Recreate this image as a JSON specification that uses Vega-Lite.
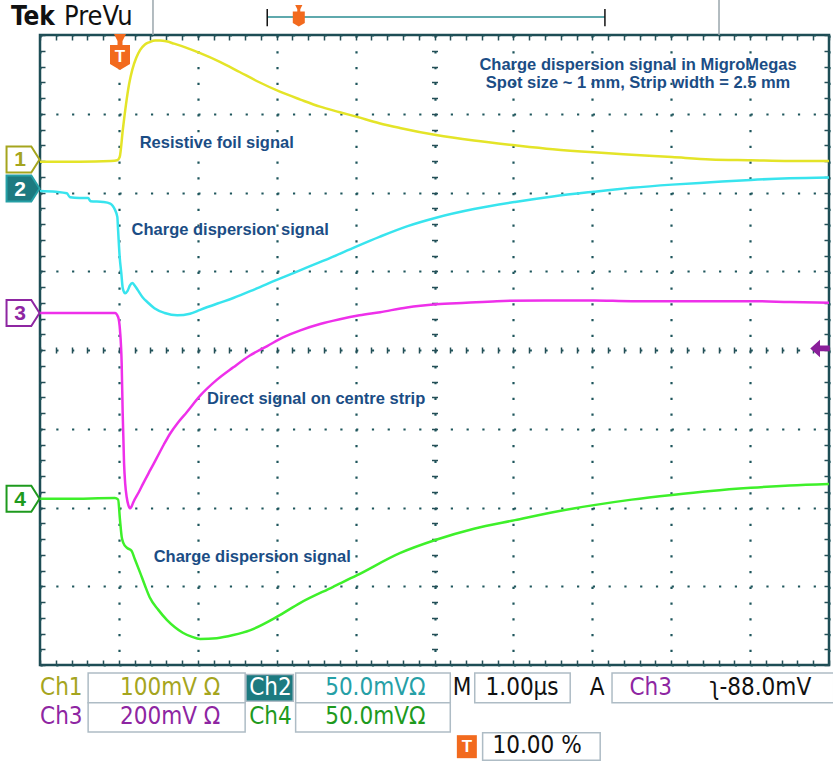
{
  "$schema": "https://vega.github.io/schema/vega-lite/v6.json",
  "width": 789,
  "height": 630,
  "autosize": {"type": "none"},
  "padding": {"left": 40, "top": 35, "right": 4, "bottom": 97},
  "background": "white",
  "config": {"view": {"stroke": "#1d4d55", "strokeWidth": 2.5}},
  "datasets": {
    "traces": [
      {"ch":"1","t":0,"v":2.39},{"ch":"1","t":0.5,"v":2.39},{"ch":"1","t":0.9,"v":2.40},{"ch":"1","t":0.98,"v":2.41},{"ch":"1","t":1.01,"v":2.45},{"ch":"1","t":1.05,"v":2.80},{"ch":"1","t":1.09,"v":3.12},{"ch":"1","t":1.13,"v":3.38},{"ch":"1","t":1.17,"v":3.56},{"ch":"1","t":1.22,"v":3.71},{"ch":"1","t":1.27,"v":3.81},{"ch":"1","t":1.33,"v":3.88},{"ch":"1","t":1.39,"v":3.91},{"ch":"1","t":1.46,"v":3.93},{"ch":"1","t":1.52,"v":3.93},{"ch":"1","t":1.60,"v":3.92},{"ch":"1","t":1.70,"v":3.89},{"ch":"1","t":1.85,"v":3.84},{"ch":"1","t":2.03,"v":3.77},{"ch":"1","t":2.28,"v":3.66},{"ch":"1","t":2.53,"v":3.53},{"ch":"1","t":2.78,"v":3.40},{"ch":"1","t":3.04,"v":3.28},{"ch":"1","t":3.30,"v":3.18},{"ch":"1","t":3.55,"v":3.09},{"ch":"1","t":3.80,"v":3.02},{"ch":"1","t":4.02,"v":2.96},{"ch":"1","t":4.30,"v":2.88},{"ch":"1","t":4.56,"v":2.82},{"ch":"1","t":5.02,"v":2.73},{"ch":"1","t":5.5,"v":2.66},{"ch":"1","t":6.02,"v":2.60},{"ch":"1","t":6.5,"v":2.55},{"ch":"1","t":7.02,"v":2.51},{"ch":"1","t":7.5,"v":2.48},{"ch":"1","t":8.01,"v":2.45},{"ch":"1","t":8.5,"v":2.42},{"ch":"1","t":9.01,"v":2.41},{"ch":"1","t":9.5,"v":2.40},{"ch":"1","t":10,"v":2.40},
      {"ch":"2","t":0,"v":2.02},{"ch":"2","t":0.2,"v":2.01},{"ch":"2","t":0.34,"v":1.99},{"ch":"2","t":0.38,"v":1.94},{"ch":"2","t":0.5,"v":1.93},{"ch":"2","t":0.61,"v":1.93},{"ch":"2","t":0.64,"v":1.89},{"ch":"2","t":0.8,"v":1.88},{"ch":"2","t":0.89,"v":1.86},{"ch":"2","t":0.95,"v":1.78},{"ch":"2","t":0.98,"v":1.69},{"ch":"2","t":0.99,"v":1.52},{"ch":"2","t":1.01,"v":1.18},{"ch":"2","t":1.03,"v":0.98},{"ch":"2","t":1.05,"v":0.78},{"ch":"2","t":1.08,"v":0.72},{"ch":"2","t":1.11,"v":0.75},{"ch":"2","t":1.14,"v":0.82},{"ch":"2","t":1.17,"v":0.85},{"ch":"2","t":1.20,"v":0.82},{"ch":"2","t":1.24,"v":0.76},{"ch":"2","t":1.30,"v":0.67},{"ch":"2","t":1.37,"v":0.60},{"ch":"2","t":1.45,"v":0.53},{"ch":"2","t":1.58,"v":0.47},{"ch":"2","t":1.74,"v":0.44},{"ch":"2","t":1.90,"v":0.46},{"ch":"2","t":2.03,"v":0.51},{"ch":"2","t":2.25,"v":0.59},{"ch":"2","t":2.45,"v":0.66},{"ch":"2","t":2.72,"v":0.77},{"ch":"2","t":3.00,"v":0.89},{"ch":"2","t":3.34,"v":1.03},{"ch":"2","t":3.68,"v":1.17},{"ch":"2","t":4.00,"v":1.31},{"ch":"2","t":4.31,"v":1.44},{"ch":"2","t":4.65,"v":1.57},{"ch":"2","t":5.02,"v":1.68},{"ch":"2","t":5.5,"v":1.79},{"ch":"2","t":6.02,"v":1.88},{"ch":"2","t":6.5,"v":1.95},{"ch":"2","t":7.02,"v":2.01},{"ch":"2","t":7.5,"v":2.06},{"ch":"2","t":8.01,"v":2.10},{"ch":"2","t":8.5,"v":2.13},{"ch":"2","t":9.01,"v":2.16},{"ch":"2","t":9.5,"v":2.18},{"ch":"2","t":10,"v":2.19},
      {"ch":"3","t":0,"v":0.47},{"ch":"3","t":0.5,"v":0.47},{"ch":"3","t":0.95,"v":0.47},{"ch":"3","t":0.99,"v":0.42},{"ch":"3","t":1.014,"v":0.25},{"ch":"3","t":1.035,"v":-0.17},{"ch":"3","t":1.048,"v":-0.80},{"ch":"3","t":1.065,"v":-1.43},{"ch":"3","t":1.08,"v":-1.70},{"ch":"3","t":1.099,"v":-1.87},{"ch":"3","t":1.12,"v":-1.97},{"ch":"3","t":1.141,"v":-2.01},{"ch":"3","t":1.16,"v":-1.99},{"ch":"3","t":1.18,"v":-1.94},{"ch":"3","t":1.25,"v":-1.81},{"ch":"3","t":1.31,"v":-1.69},{"ch":"3","t":1.40,"v":-1.52},{"ch":"3","t":1.48,"v":-1.37},{"ch":"3","t":1.57,"v":-1.20},{"ch":"3","t":1.65,"v":-1.06},{"ch":"3","t":1.75,"v":-0.92},{"ch":"3","t":1.86,"v":-0.79},{"ch":"3","t":2.03,"v":-0.58},{"ch":"3","t":2.24,"v":-0.38},{"ch":"3","t":2.45,"v":-0.22},{"ch":"3","t":2.66,"v":-0.07},{"ch":"3","t":2.88,"v":0.05},{"ch":"3","t":3.08,"v":0.16},{"ch":"3","t":3.30,"v":0.25},{"ch":"3","t":3.55,"v":0.33},{"ch":"3","t":3.80,"v":0.39},{"ch":"3","t":4.05,"v":0.44},{"ch":"3","t":4.31,"v":0.48},{"ch":"3","t":4.65,"v":0.54},{"ch":"3","t":5.02,"v":0.58},{"ch":"3","t":5.4,"v":0.60},{"ch":"3","t":5.79,"v":0.62},{"ch":"3","t":6.4,"v":0.63},{"ch":"3","t":7.02,"v":0.63},{"ch":"3","t":7.5,"v":0.62},{"ch":"3","t":8.01,"v":0.62},{"ch":"3","t":9.01,"v":0.62},{"ch":"3","t":9.5,"v":0.61},{"ch":"3","t":10,"v":0.60},
      {"ch":"4","t":0,"v":-1.89},{"ch":"4","t":0.34,"v":-1.89},{"ch":"4","t":0.95,"v":-1.88},{"ch":"4","t":0.99,"v":-1.90},{"ch":"4","t":1.014,"v":-2.16},{"ch":"4","t":1.035,"v":-2.37},{"ch":"4","t":1.056,"v":-2.45},{"ch":"4","t":1.10,"v":-2.51},{"ch":"4","t":1.16,"v":-2.55},{"ch":"4","t":1.20,"v":-2.65},{"ch":"4","t":1.27,"v":-2.83},{"ch":"4","t":1.33,"v":-2.99},{"ch":"4","t":1.39,"v":-3.14},{"ch":"4","t":1.50,"v":-3.30},{"ch":"4","t":1.61,"v":-3.43},{"ch":"4","t":1.71,"v":-3.52},{"ch":"4","t":1.81,"v":-3.59},{"ch":"4","t":1.92,"v":-3.64},{"ch":"4","t":2.03,"v":-3.67},{"ch":"4","t":2.24,"v":-3.66},{"ch":"4","t":2.45,"v":-3.62},{"ch":"4","t":2.66,"v":-3.56},{"ch":"4","t":3.00,"v":-3.39},{"ch":"4","t":3.30,"v":-3.21},{"ch":"4","t":3.71,"v":-3.01},{"ch":"4","t":4.02,"v":-2.86},{"ch":"4","t":4.56,"v":-2.58},{"ch":"4","t":5.02,"v":-2.41},{"ch":"4","t":5.5,"v":-2.27},{"ch":"4","t":6.02,"v":-2.16},{"ch":"4","t":6.5,"v":-2.06},{"ch":"4","t":7.02,"v":-1.97},{"ch":"4","t":7.5,"v":-1.90},{"ch":"4","t":8.01,"v":-1.84},{"ch":"4","t":8.5,"v":-1.79},{"ch":"4","t":9.01,"v":-1.75},{"ch":"4","t":9.5,"v":-1.72},{"ch":"4","t":10,"v":-1.70}
    ],
    "notes": [
      {"label":"Charge dispersion signal in MigroMegas","t":7.58,"v":3.62},
      {"label":"Spot size ~ 1 mm, Strip width = 2.5 mm","t":7.58,"v":3.39},
      {"label":"Resistive foil signal","t":2.24,"v":2.63},
      {"label":"Charge dispersion signal","t":2.41,"v":1.52},
      {"label":"Direct signal on centre strip","t":3.50,"v":-0.62},
      {"label":"Charge dispersion signal","t":2.69,"v":-2.63}
    ],
    "status": [
      {"label":"Ch1","t":0.27,"v":-4.29,"c":"1"},
      {"label":"100mV Ω","t":1.65,"v":-4.29,"c":"1"},
      {"label":"Ch2","t":2.92,"v":-4.29,"c":"w"},
      {"label":"50.0mVΩ","t":4.25,"v":-4.29,"c":"2"},
      {"label":"M","t":5.35,"v":-4.29,"c":"k"},
      {"label":"1.00µs","t":6.11,"v":-4.29,"c":"k"},
      {"label":"A","t":7.06,"v":-4.29,"c":"k"},
      {"label":"Ch3","t":7.74,"v":-4.29,"c":"3"},
      {"label":"ʅ-88.0mV","t":9.13,"v":-4.29,"c":"k"},
      {"label":"Ch3","t":0.27,"v":-4.66,"c":"3"},
      {"label":"200mV Ω","t":1.65,"v":-4.66,"c":"3"},
      {"label":"Ch4","t":2.92,"v":-4.66,"c":"4"},
      {"label":"50.0mVΩ","t":4.25,"v":-4.66,"c":"4"},
      {"label":"10.00 %","t":6.30,"v":-5.03,"c":"k"}
    ],
    "boxes": [
      {"t":0.61,"t2":2.60,"v":-4.10,"v2":-4.48,"kind":"box"},
      {"t":2.61,"t2":3.21,"v":-4.12,"v2":-4.46,"kind":"tag"},
      {"t":3.24,"t2":5.20,"v":-4.10,"v2":-4.48,"kind":"box"},
      {"t":5.51,"t2":6.72,"v":-4.10,"v2":-4.48,"kind":"box"},
      {"t":7.25,"t2":10.06,"v":-4.10,"v2":-4.48,"kind":"box"},
      {"t":0.61,"t2":2.60,"v":-4.48,"v2":-4.85,"kind":"box"},
      {"t":3.24,"t2":5.20,"v":-4.48,"v2":-4.85,"kind":"box"},
      {"t":5.61,"t2":7.10,"v":-4.86,"v2":-5.21,"kind":"box"}
    ],
    "markers": [
      {"ch":"1","t":-0.215,"v":2.42},
      {"ch":"2","t":-0.215,"v":2.05},
      {"ch":"3","t":-0.215,"v":0.47},
      {"ch":"4","t":-0.215,"v":-1.89}
    ],
    "glyphs": [
      {"kind":"main","t":1.014,"v":3.784},
      {"kind":"bar","t":3.28,"v":4.244},
      {"kind":"status","t":5.41,"v":-4.98},
      {"kind":"arrow","t":9.886,"v":0.02}
    ],
    "hrules": [
      {"t":1.432,"t2":1.432,"v":4.0,"v2":4.45,"c":"g"},
      {"t":8.606,"t2":8.606,"v":4.0,"v2":4.45,"c":"g"},
      {"t":2.88,"t2":7.16,"v":4.23,"v2":4.23,"c":"b"},
      {"t":2.88,"t2":2.88,"v":4.11,"v2":4.33,"c":"k"},
      {"t":7.16,"t2":7.16,"v":4.11,"v2":4.33,"c":"k"}
    ],
    "header": [
      {"label":"Tek","t":-0.09,"v":4.23},
      {"label":"PreVu","t":0.74,"v":4.23}
    ]
  },
  "resolve": {"axis": {"x": "independent", "y": "independent"}},
  "layer": [
    {
      "data": {"name": "traces"},
      "mark": {"type": "line", "strokeWidth": 2.5, "interpolate": "monotone"},
      "encoding": {
        "x": {"field": "t", "type": "quantitative", "scale": {"domain": [0, 10], "nice": false, "zero": false},
              "axis": {"orient": "bottom", "values": [0,1,2,3,4,5,6,7,8,9,10], "grid": true, "gridColor": "#1e565c", "gridDash": [2.2, 13.55], "gridWidth": 2.2, "ticks": false, "labels": false, "domain": false, "title": null}},
        "y": {"field": "v", "type": "quantitative", "scale": {"domain": [-4, 4], "nice": false, "zero": false},
              "axis": {"orient": "left", "values": [-4,-3,-2,-1,0,1,2,3,4], "grid": true, "gridColor": "#1e565c", "gridDash": [2.2, 13.58], "gridWidth": 2.2, "ticks": false, "labels": false, "domain": false, "title": null}},
        "stroke": {"field": "ch", "type": "nominal", "scale": {"domain": ["1","2","3","4"], "range": ["#e4e428","#38e4ee","#ee30ea","#3ef02a"]}, "legend": null}
      }
    },
    {
      "data": {"name": "notes"},
      "mark": {"type": "text", "font": "Liberation Sans", "fontWeight": "bold", "fontSize": 16.5, "align": "center", "baseline": "middle", "clip": false},
      "encoding": {
        "x": {"field": "t", "type": "quantitative", "scale": {"domain": [0, 10], "nice": false, "zero": false},
              "axis": {"orient": "top", "offset": -5, "tickSize": 5, "tickColor": "#244f57", "tickWidth": 1.5, "values": [0,0.2,0.4,0.6,0.8,1,1.2,1.4,1.6,1.8,2,2.2,2.4,2.6,2.8,3,3.2,3.4,3.6,3.8,4,4.2,4.4,4.6,4.8,5,5.2,5.4,5.6,5.8,6,6.2,6.4,6.6,6.8,7,7.2,7.4,7.6,7.8,8,8.2,8.4,8.6,8.8,9,9.2,9.4,9.6,9.8,10], "grid": false, "labels": false, "domain": false, "title": null}},
        "y": {"field": "v", "type": "quantitative", "scale": {"domain": [-4, 4], "nice": false, "zero": false},
              "axis": {"orient": "right", "offset": -5, "tickSize": 5, "tickColor": "#244f57", "tickWidth": 1.5, "values": [-4,-3.8,-3.6,-3.4,-3.2,-3,-2.8,-2.6,-2.4,-2.2,-2,-1.8,-1.6,-1.4,-1.2,-1,-0.8,-0.6,-0.4,-0.2,0,0.2,0.4,0.6,0.8,1,1.2,1.4,1.6,1.8,2,2.2,2.4,2.6,2.8,3,3.2,3.4,3.6,3.8,4], "grid": false, "labels": false, "domain": false, "title": null}},
        "text": {"field": "label"},
        "color": {"value": "#1b4d85"}
      }
    },
    {
      "data": {"name": "boxes"},
      "mark": {"type": "rect", "stroke": "#aebcc5", "strokeWidth": 1.5, "clip": false},
      "encoding": {
        "x": {"field": "t", "type": "quantitative", "scale": {"domain": [0, 10], "nice": false, "zero": false},
              "axis": {"orient": "bottom", "offset": -5, "tickSize": 5, "tickColor": "#244f57", "tickWidth": 1.5, "values": [0,0.2,0.4,0.6,0.8,1,1.2,1.4,1.6,1.8,2,2.2,2.4,2.6,2.8,3,3.2,3.4,3.6,3.8,4,4.2,4.4,4.6,4.8,5,5.2,5.4,5.6,5.8,6,6.2,6.4,6.6,6.8,7,7.2,7.4,7.6,7.8,8,8.2,8.4,8.6,8.8,9,9.2,9.4,9.6,9.8,10], "grid": false, "labels": false, "domain": false, "title": null}},
        "x2": {"field": "t2"},
        "y": {"field": "v", "type": "quantitative", "scale": {"domain": [-4, 4], "nice": false, "zero": false},
              "axis": {"orient": "left", "offset": -5, "tickSize": 5, "tickColor": "#244f57", "tickWidth": 1.5, "values": [-4,-3.8,-3.6,-3.4,-3.2,-3,-2.8,-2.6,-2.4,-2.2,-2,-1.8,-1.6,-1.4,-1.2,-1,-0.8,-0.6,-0.4,-0.2,0,0.2,0.4,0.6,0.8,1,1.2,1.4,1.6,1.8,2,2.2,2.4,2.6,2.8,3,3.2,3.4,3.6,3.8,4], "grid": false, "labels": false, "domain": false, "title": null}},
        "y2": {"field": "v2"},
        "fill": {"condition": {"test": "datum.kind == 'tag'", "value": "#1d7a80"}, "value": "#ffffff"}
      }
    },
    {
      "data": {"name": "status"},
      "mark": {"type": "text", "font": "Liberation Sans Narrow, DejaVu Sans Condensed, sans-serif", "fontSize": 24, "align": "center", "baseline": "middle", "clip": false},
      "encoding": {
        "x": {"field": "t", "type": "quantitative", "scale": {"domain": [0, 10], "nice": false, "zero": false},
              "axis": {"orient": "bottom", "offset": -318, "tickSize": 6, "tickColor": "#244f57", "tickWidth": 1.5, "values": [0,0.2,0.4,0.6,0.8,1,1.2,1.4,1.6,1.8,2,2.2,2.4,2.6,2.8,3,3.2,3.4,3.6,3.8,4,4.2,4.4,4.6,4.8,5,5.2,5.4,5.6,5.8,6,6.2,6.4,6.6,6.8,7,7.2,7.4,7.6,7.8,8,8.2,8.4,8.6,8.8,9,9.2,9.4,9.6,9.8,10], "grid": false, "labels": false, "domain": false, "title": null}},
        "y": {"field": "v", "type": "quantitative", "scale": {"domain": [-4, 4], "nice": false, "zero": false},
              "axis": {"orient": "left", "offset": -397.5, "tickSize": 6, "tickColor": "#244f57", "tickWidth": 1.5, "values": [-4,-3.8,-3.6,-3.4,-3.2,-3,-2.8,-2.6,-2.4,-2.2,-2,-1.8,-1.6,-1.4,-1.2,-1,-0.8,-0.6,-0.4,-0.2,0,0.2,0.4,0.6,0.8,1,1.2,1.4,1.6,1.8,2,2.2,2.4,2.6,2.8,3,3.2,3.4,3.6,3.8,4], "grid": false, "labels": false, "domain": false, "title": null}},
        "text": {"field": "label"},
        "color": {"field": "c", "type": "nominal", "scale": {"domain": ["1","2","3","4","k","w","g","b"], "range": ["#a5a51e","#26a0a6","#8e26a2","#1e9a1e","#111111","#ffffff","#9aa6ac","#2a8c92"]}, "legend": null}
      }
    },
    {
      "data": {"name": "markers"},
      "transform": [{"filter": "datum.ch == '2'"}],
      "mark": {"type": "point", "filled": true, "opacity": 1, "size": 1089, "shape": "M-1,-0.79 L0.5,-0.79 L1,0 L0.5,0.79 L-1,0.79 Z", "color": "#1d7a80", "clip": false},
      "encoding": {
        "x": {"field": "t", "type": "quantitative", "scale": {"domain": [0, 10], "nice": false, "zero": false}, "axis": null},
        "y": {"field": "v", "type": "quantitative", "scale": {"domain": [-4, 4], "nice": false, "zero": false}, "axis": null}
      }
    },
    {
      "data": {"name": "markers"},
      "mark": {"type": "point", "filled": false, "opacity": 1, "size": 1089, "strokeWidth": 2, "shape": "M-1,-0.79 L0.5,-0.79 L1,0 L0.5,0.79 L-1,0.79 Z", "clip": false},
      "encoding": {
        "x": {"field": "t", "type": "quantitative", "scale": {"domain": [0, 10], "nice": false, "zero": false}, "axis": null},
        "y": {"field": "v", "type": "quantitative", "scale": {"domain": [-4, 4], "nice": false, "zero": false}, "axis": null},
        "color": {"field": "ch", "type": "nominal", "scale": {"domain": ["1","2","3","4","k","w","g","b"], "range": ["#a5a51e","#26a0a6","#8e26a2","#1e9a1e","#111111","#ffffff","#9aa6ac","#2a8c92"]}, "legend": null}
      }
    },
    {
      "data": {"name": "markers"},
      "mark": {"type": "text", "font": "Liberation Sans", "fontWeight": "bold", "fontSize": 21, "align": "center", "baseline": "middle", "dx": -3, "dy": 1, "clip": false},
      "encoding": {
        "x": {"field": "t", "type": "quantitative", "scale": {"domain": [0, 10], "nice": false, "zero": false}, "axis": null},
        "y": {"field": "v", "type": "quantitative", "scale": {"domain": [-4, 4], "nice": false, "zero": false}, "axis": null},
        "text": {"field": "ch"},
        "color": {"condition": {"test": "datum.ch == '2'", "value": "#ffffff"}, "field": "ch", "type": "nominal", "scale": {"domain": ["1","2","3","4","k","w","g","b"], "range": ["#a5a51e","#26a0a6","#8e26a2","#1e9a1e","#111111","#ffffff","#9aa6ac","#2a8c92"]}, "legend": null}
      }
    },
    {
      "data": {"name": "hrules"},
      "mark": {"type": "rule", "strokeWidth": 1.5, "clip": false},
      "encoding": {
        "x": {"field": "t", "type": "quantitative", "scale": {"domain": [0, 10], "nice": false, "zero": false}, "axis": null},
        "x2": {"field": "t2"},
        "y": {"field": "v", "type": "quantitative", "scale": {"domain": [-4, 4], "nice": false, "zero": false}, "axis": null},
        "y2": {"field": "v2"},
        "color": {"field": "c", "type": "nominal", "scale": {"domain": ["1","2","3","4","k","w","g","b"], "range": ["#a5a51e","#26a0a6","#8e26a2","#1e9a1e","#111111","#ffffff","#9aa6ac","#2a8c92"]}, "legend": null}
      }
    },
    {
      "data": {"name": "glyphs"},
      "mark": {"type": "point", "filled": true, "opacity": 1, "clip": false},
      "encoding": {
        "x": {"field": "t", "type": "quantitative", "scale": {"domain": [0, 10], "nice": false, "zero": false}, "axis": null},
        "y": {"field": "v", "type": "quantitative", "scale": {"domain": [-4, 4], "nice": false, "zero": false}, "axis": null},
        "shape": {"condition": [
          {"test": "datum.kind == 'status'", "value": "M-1,-0.7 L1,-0.7 L1,1.6 L-1,1.6 Z"},
          {"test": "datum.kind == 'arrow'", "value": "M-1,0 L0,-0.9 L0,-0.3 L1,-0.3 L1,0.3 L0,0.3 L0,0.9 Z"}
        ], "value": "M-0.6,-1.8 L0.6,-1.8 L0.25,-1.1 L0.25,-0.7 L1,-0.7 L1,1.2 L0,1.8 L-1,1.2 L-1,-0.7 L-0.25,-0.7 L-0.25,-1.1 Z"},
        "size": {"condition": [
          {"test": "datum.kind == 'bar'", "value": 144},
          {"test": "datum.kind == 'arrow'", "value": 380}
        ], "value": 400},
        "color": {"condition": {"test": "datum.kind == 'arrow'", "value": "#8a1f9a"}, "value": "#f26a1e"}
      }
    },
    {
      "data": {"name": "glyphs"},
      "transform": [{"filter": "datum.kind == 'main' || datum.kind == 'status'"}],
      "mark": {"type": "text", "text": "T", "font": "Liberation Sans", "fontWeight": "bold", "fontSize": 17, "align": "center", "baseline": "middle", "dy": 5, "color": "#ffffff", "clip": false},
      "encoding": {
        "x": {"field": "t", "type": "quantitative", "scale": {"domain": [0, 10], "nice": false, "zero": false}, "axis": null},
        "y": {"field": "v", "type": "quantitative", "scale": {"domain": [-4, 4], "nice": false, "zero": false}, "axis": null}
      }
    },
    {
      "data": {"name": "header"},
      "transform": [{"filter": "datum.label == 'Tek'"}],
      "mark": {"type": "text", "font": "Liberation Sans Narrow, DejaVu Sans Condensed, sans-serif", "fontWeight": "bold", "fontSize": 26, "align": "center", "baseline": "middle", "color": "#111111", "clip": false},
      "encoding": {
        "x": {"field": "t", "type": "quantitative", "scale": {"domain": [0, 10], "nice": false, "zero": false}, "axis": null},
        "y": {"field": "v", "type": "quantitative", "scale": {"domain": [-4, 4], "nice": false, "zero": false}, "axis": null},
        "text": {"field": "label"}
      }
    },
    {
      "data": {"name": "header"},
      "transform": [{"filter": "datum.label == 'PreVu'"}],
      "mark": {"type": "text", "font": "Liberation Sans Narrow, DejaVu Sans Condensed, sans-serif", "fontSize": 27, "align": "center", "baseline": "middle", "color": "#111111", "clip": false},
      "encoding": {
        "x": {"field": "t", "type": "quantitative", "scale": {"domain": [0, 10], "nice": false, "zero": false}, "axis": null},
        "y": {"field": "v", "type": "quantitative", "scale": {"domain": [-4, 4], "nice": false, "zero": false}, "axis": null},
        "text": {"field": "label"}
      }
    }
  ]
}
